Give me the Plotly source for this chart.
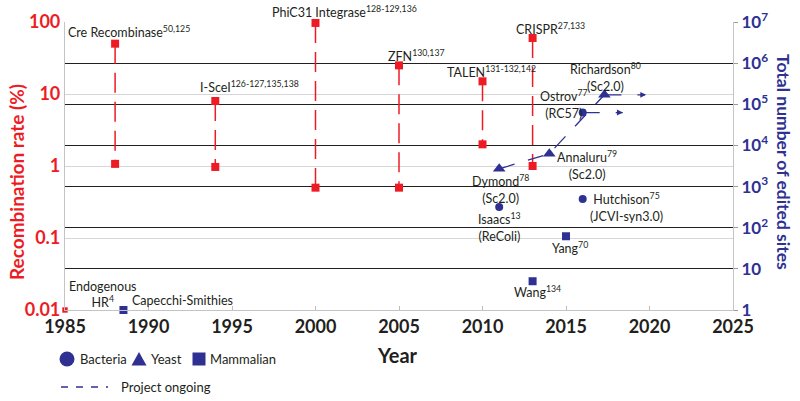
import numpy as np
import plotly.graph_objects as go

RED = "#ed1c24"
BLUE = "#2e3192"
INK = "#231f20"
FONT = "Lato"

# ---------------- data ----------------
# Genome-editing tools: recombination rate (%) range per year
tool_names = ["Cre Recombinase", "I-SceI", "PhiC31 Integrase", "ZFN", "TALEN", "CRISPR"]
tool_refs = ["50,125", "126-127,135,138", "128-129,136", "130,137", "131-132,142", "27,133"]
tool_year = [1988, 1994, 2000, 2005, 2010, 2013]
tool_high = [50, 8, 97, 25, 15, 60]
tool_low = [1.07, 0.97, 0.5, 0.5, 2.0, 1.0]

endo_year = [1985]
endo_rate = [0.01]

# Genome-scale projects: total number of edited sites
proj_names = ["Capecchi-Smithies", "Dymond", "Isaacs", "Wang", "Annaluru",
              "Yang", "Ostrov", "Hutchison", "Richardson"]
proj_refs = ["", "78", "13", "134", "79", "70", "77", "75", "80"]
proj_sub = ["", "(Sc2.0)", "(ReColi)", "", "(Sc2.0)", "", "(RC57)", "(JCVI-syn3.0)", "(Sc2.0)"]
proj_year = [1988.5, 2011, 2011, 2013, 2014, 2015, 2016, 2016, 2017.3]
proj_sites = [1, 2700, 320, 5, 6300, 62, 63000, 500, 170000]
proj_org = ["Mammalian", "Yeast", "Bacteria", "Mammalian", "Yeast",
            "Mammalian", "Bacteria", "Bacteria", "Yeast"]

# Sc2.0 progress line and ongoing projects
sc20_projects = ["Dymond", "Annaluru", "Richardson"]
ongoing_projects = ["Ostrov", "Richardson"]
ongoing_end_year = [2018.4, 2019.8]

left_ticks = [0.01, 0.1, 1, 10, 100]
left_ticktext = ["0.01", "0.1", "1", "10", "100"]
right_ticks = [1, 10, 100, 1e3, 1e4, 1e5, 1e6, 1e7]
right_ticktext = ["1", "10", "10<sup>2</sup>", "10<sup>3</sup>", "10<sup>4</sup>",
                  "10<sup>5</sup>", "10<sup>6</sup>", "10<sup>7</sup>"]
year_ticks = list(range(1985, 2026, 5))

org_symbol = {"Bacteria": "circle", "Yeast": "triangle-up", "Mammalian": "square"}
org_size = {"Bacteria": 8, "Yeast": 11, "Mammalian": 8}

# label offsets in pixels (dx, dy, xanchor)
tool_label_off = [(-49, 11.7, "left"), (-17, 14, "left"), (-46, 11.3, "left"),
                  (-13, 9.5, "left"), (-38, 9.4, "left"), (-19, 9, "left")]
proj_label_off = {
    "Capecchi-Smithies": (6.7, 9.5, "left"),
    "Dymond": (1, -20, "center"),
    "Isaacs": (0, -20, "center"),
    "Wang": (5, -10.5, "center"),
    "Annaluru": (38, -11, "center"),
    "Yang": (4, -11, "center"),
    "Ostrov": (-19, 8.5, "center"),
    "Hutchison": (5, -8, "left"),
    "Richardson": (1.5, 17.5, "center"),
}

fig = go.Figure()

# red dashed ranges
lx, ly = [], []
for yr, hi, lo in zip(tool_year, tool_high, tool_low):
    lx += [yr, yr, None]
    ly += [hi, lo, None]
fig.add_trace(go.Scatter(x=lx, y=ly, mode="lines", yaxis="y",
                         line=dict(color=RED, width=1.5, dash="20px,9px"),
                         showlegend=False, hoverinfo="skip"))

# blue Sc2.0 dashed progress line
idx = [proj_names.index(n) for n in sc20_projects]
fig.add_trace(go.Scatter(x=[proj_year[i] for i in idx], y=[proj_sites[i] for i in idx],
                         mode="lines", yaxis="y2",
                         line=dict(color=BLUE, width=1.3, dash="16px,14px"),
                         showlegend=False, hoverinfo="skip"))

# ongoing project dashed arrows
for n, end in zip(ongoing_projects, ongoing_end_year):
    i = proj_names.index(n)
    fig.add_trace(go.Scatter(x=[proj_year[i], end], y=[proj_sites[i], proj_sites[i]],
                             mode="lines", yaxis="y2",
                             line=dict(color=BLUE, width=1.3, dash="17px,16px,7px,60px"),
                             showlegend=False, hoverinfo="skip"))
    fig.add_annotation(x=end, y=np.log10(proj_sites[i]), xref="x", yref="y2",
                       text="", showarrow=True, ax=-7, ay=0, arrowhead=2,
                       arrowsize=0.9, arrowwidth=1.3, arrowcolor=BLUE, standoff=0)

# red squares
fig.add_trace(go.Scatter(x=tool_year + tool_year, y=tool_high + tool_low, mode="markers",
                         yaxis="y", marker=dict(symbol="square", size=8, color=RED),
                         showlegend=False, cliponaxis=False))
fig.add_trace(go.Scatter(x=endo_year, y=endo_rate, mode="markers", yaxis="y",
                         marker=dict(symbol="square", size=6, color=RED,
                                     line=dict(color="white", width=0.6)),
                         showlegend=False, cliponaxis=False))

# blue markers by organism
for org in ["Bacteria", "Yeast", "Mammalian"]:
    ii = [k for k, o in enumerate(proj_org) if o == org]
    fig.add_trace(go.Scatter(x=[proj_year[k] for k in ii], y=[proj_sites[k] for k in ii],
                             mode="markers", yaxis="y2", name=org,
                             marker=dict(symbol=org_symbol[org], size=org_size[org], color=BLUE),
                             showlegend=False, cliponaxis=False))

lab_font = dict(family=FONT, size=12.5, color=INK)

# tool labels
for n, r, yr, hi, (dx, dy, xa) in zip(tool_names, tool_refs, tool_year, tool_high, tool_label_off):
    fig.add_annotation(x=yr, y=np.log10(hi), xref="x", yref="y",
                       text=f"{n}<sup>{r}</sup>", showarrow=False, font=lab_font,
                       xanchor=xa, yanchor="middle", xshift=dx, yshift=dy)

# endogenous HR label
fig.add_annotation(x=endo_year[0], y=np.log10(endo_rate[0]), xref="x", yref="y",
                   text="Endogenous<br>HR<sup>4</sup>", showarrow=False, font=lab_font,
                   align="center", xanchor="center", yanchor="middle", xshift=38, yshift=16)

# project labels
for n, r, s, yr, v in zip(proj_names, proj_refs, proj_sub, proj_year, proj_sites):
    dx, dy, xa = proj_label_off[n]
    t = n + (f"<sup>{r}</sup>" if r else "")
    if s:
        t += "<br>" + s
    fig.add_annotation(x=yr, y=np.log10(v), xref="x", yref="y2", text=t,
                       showarrow=False, font=lab_font, align="center",
                       xanchor=xa, yanchor="middle", xshift=dx, yshift=dy)

# ---------------- layout ----------------
W, H = 800, 401
L, T, R, B = 65, 22, 800 - 733, 401 - 310
pw, ph = W - L - R, H - T - B


def px(x):
    return (x - L) / pw


def py(y):
    return (H - B - y) / ph


fig.update_layout(
    width=W, height=H, autosize=False,
    margin=dict(l=L, r=R, t=T, b=B, pad=0),
    paper_bgcolor="white", plot_bgcolor="white",
    showlegend=False,
    xaxis=dict(range=[1985, 2025], tickvals=year_ticks, ticks="inside", ticklen=4,
               tickcolor="#bdbdbd", showgrid=False, zeroline=False, showline=True,
               linecolor="#c4c4c4", linewidth=1.2, automargin=False,
               tickfont=dict(family=FONT, size=18, color=INK, weight="bold")),
    yaxis=dict(type="log", range=[-2, 2], tickvals=left_ticks, ticktext=left_ticktext,
               showgrid=True, gridcolor="#d6d6d6", gridwidth=1, zeroline=False,
               showline=True, linecolor="#c4c4c4", linewidth=1.2, ticks="", ticklen=0,
               automargin=False,
               tickfont=dict(family=FONT, size=18, color=RED, weight="bold")),
    yaxis2=dict(type="log", range=[0, 7], overlaying="y", side="right",
                tickvals=right_ticks, ticktext=right_ticktext,
                showgrid=True, gridcolor=INK, gridwidth=1.3, zeroline=False,
                showline=True, linecolor="#c4c4c4", linewidth=1.2,
                ticks="outside", ticklen=4, tickcolor="#9a9a9a", automargin=False,
                tickfont=dict(family=FONT, size=17, color=BLUE, weight="bold")),
)

# axis titles
fig.add_annotation(x=px(16), y=py(182), xref="paper", yref="paper",
                   text="Recombination rate (%)", textangle=-90, showarrow=False,
                   font=dict(family=FONT, size=19, color=RED, weight="bold"),
                   xanchor="center", yanchor="middle")
fig.add_annotation(x=px(784), y=py(162), xref="paper", yref="paper",
                   text="Total number of edited sites", textangle=90, showarrow=False,
                   font=dict(family=FONT, size=17.5, color=BLUE, weight="bold"),
                   xanchor="center", yanchor="middle")
fig.add_annotation(x=px(397), y=py(355), xref="paper", yref="paper",
                   text="Year", showarrow=False,
                   font=dict(family=FONT, size=20, color=INK, weight="bold"),
                   xanchor="center", yanchor="middle")

# legend keys (drawn as pixel-sized shapes)
leg_font = dict(family=FONT, size=13, color=INK)
legend_items = ["Bacteria", "Yeast", "Mammalian"]
legend_key_x = [67, 139, 199]
legend_text_x = [78, 149, 208]
legend_y = 359
for name, kx, tx in zip(legend_items, legend_key_x, legend_text_x):
    sym = org_symbol[name]
    if sym == "circle":
        fig.add_shape(type="circle", xref="paper", yref="paper", xsizemode="pixel",
                      ysizemode="pixel", xanchor=px(kx), yanchor=py(legend_y),
                      x0=-7.5, x1=7.5, y0=-7.5, y1=7.5, fillcolor=BLUE, line_width=0)
    elif sym == "square":
        fig.add_shape(type="rect", xref="paper", yref="paper", xsizemode="pixel",
                      ysizemode="pixel", xanchor=px(kx), yanchor=py(legend_y),
                      x0=-6.5, x1=6.5, y0=-6.5, y1=6.5, fillcolor=BLUE, line_width=0)
    else:
        fig.add_shape(type="path", xref="paper", yref="paper", xsizemode="pixel",
                      ysizemode="pixel", xanchor=px(kx), yanchor=py(legend_y),
                      path="M -7.5 -6.5 L 7.5 -6.5 L 0 7 Z", fillcolor=BLUE, line_width=0)
    fig.add_annotation(x=px(tx), y=py(legend_y), xref="paper", yref="paper",
                       text=name, showarrow=False, font=leg_font,
                       xanchor="left", yanchor="middle")

fig.add_shape(type="line", xref="paper", yref="paper", x0=px(61), x1=px(108),
              y0=py(387), y1=py(387), line=dict(color=BLUE, width=1.5, dash="7px,8px"))
fig.add_annotation(x=px(119), y=py(387), xref="paper", yref="paper",
                   text="Project ongoing", showarrow=False, font=leg_font,
                   xanchor="left", yanchor="middle")

# remove the default 8px page margin so the 800x401 figure fills the window
fig.write_html("out.html", config={"displayModeBar": False},
               post_script="document.body.style.margin='0px';")
